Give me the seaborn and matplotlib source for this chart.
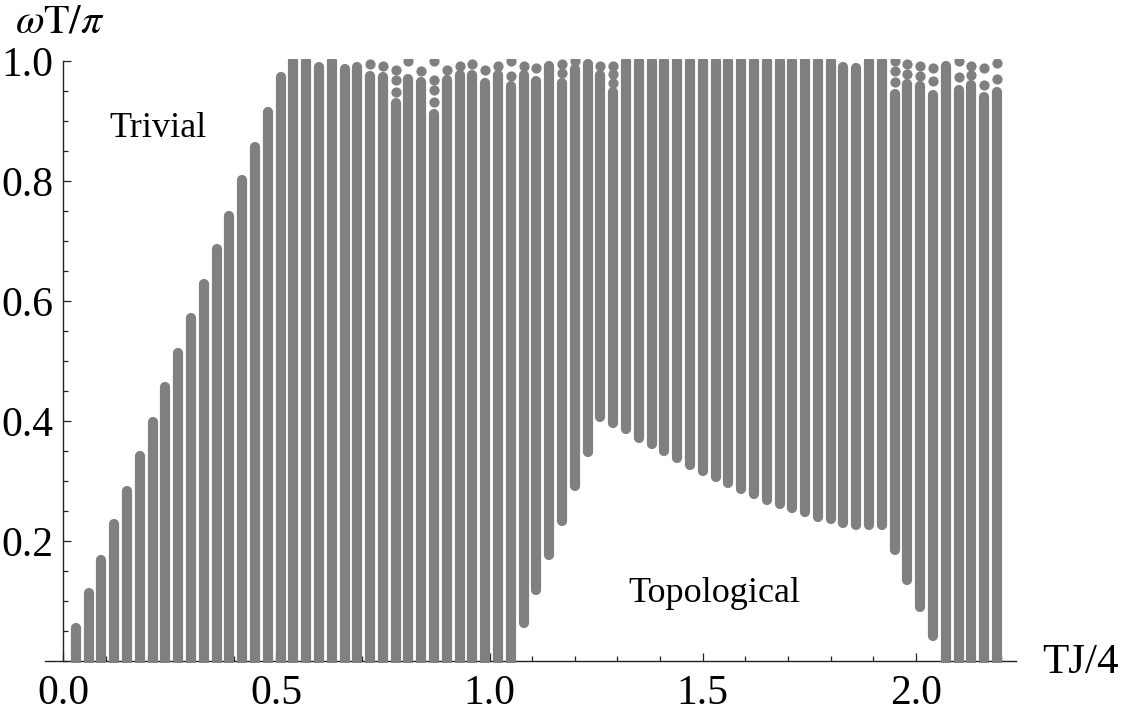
import numpy as np
import pandas as pd
import matplotlib
matplotlib.use("Agg")
import matplotlib.pyplot as plt
from matplotlib.ticker import FixedLocator, MultipleLocator, FormatStrFormatter
import seaborn as sns

# ---------------- data ----------------
tj = [0.03, 0.06, 0.09, 0.12, 0.15, 0.18, 0.21, 0.24, 0.27, 0.30,
      0.33, 0.36, 0.39, 0.42, 0.45, 0.48, 0.51, 0.54, 0.57, 0.60,
      0.63, 0.66, 0.69, 0.72, 0.75, 0.78, 0.81, 0.84, 0.87, 0.90,
      0.93, 0.96, 0.99, 1.02, 1.05, 1.08, 1.11, 1.14, 1.17, 1.20,
      1.23, 1.26, 1.29, 1.32, 1.35, 1.38, 1.41, 1.44, 1.47, 1.50,
      1.53, 1.56, 1.59, 1.62, 1.65, 1.68, 1.71, 1.74, 1.77, 1.80,
      1.83, 1.86, 1.89, 1.92, 1.95, 1.98, 2.01, 2.04, 2.07, 2.10,
      2.13, 2.16, 2.19]

omega_low = [0.0] * 35 + [
    0.063, 0.118, 0.176, 0.233, 0.291, 0.348, 0.406,
    0.396, 0.386, 0.371, 0.361, 0.350, 0.338, 0.326,
    0.316, 0.306, 0.296, 0.286, 0.278, 0.268, 0.261, 0.255, 0.248, 0.240, 0.236,
    0.230, 0.226, 0.226, 0.226,
    0.185, 0.135, 0.090, 0.041,
    0.0, 0.0, 0.0, 0.0, 0.0]

omega_high = [
    0.055, 0.114, 0.169, 0.229, 0.284, 0.342, 0.399, 0.457, 0.514, 0.572,
    0.629, 0.687, 0.742, 0.802, 0.857, 0.915, 0.974,
    1.0, 1.0, 0.99, 1.0, 0.987, 0.99, 0.975, 0.974, 0.93,
    0.970, 0.965, 0.912, 0.968, 0.976, 0.977, 0.963, 0.977, 0.958, 0.976,
    0.966, 0.992, 0.963, 0.987, 0.995, 0.977, 0.949,
    1.0, 1.0, 1.0, 1.0, 1.0, 1.0, 1.0, 1.0, 1.0, 1.0, 1.0, 1.0, 1.0, 1.0, 1.0, 1.0, 1.0,
    0.99, 0.988, 1.0, 1.0, 0.945, 0.962, 0.958, 0.944, 0.992, 0.952,
    0.960, 0.940, 0.948]

# isolated points near the top edge
dot_tj = [0.72, 0.75, 0.78, 0.78, 0.78, 0.81, 0.84, 0.87, 0.87, 0.87, 0.87,
          0.90, 0.93, 0.96, 0.99, 1.02, 1.05, 1.05, 1.08, 1.11, 1.17, 1.17,
          1.20, 1.26, 1.29, 1.29, 1.29, 1.95, 1.95, 1.95, 1.98, 1.98,
          2.01, 2.01, 2.04, 2.04, 2.10, 2.10, 2.13, 2.13, 2.16, 2.16, 2.19, 2.19]
dot_omega = [0.995, 0.992, 0.985, 0.968, 0.949, 1.0, 0.984, 1.0, 0.968, 0.952, 0.932,
             0.985, 0.992, 0.995, 0.985, 0.992, 1.0, 0.975, 0.992, 0.989, 0.995, 0.980,
             1.0, 0.992, 0.992, 0.978, 0.964, 1.0, 0.984, 0.965, 0.995, 0.979,
             0.992, 0.975, 0.988, 0.967, 1.0, 0.974, 0.992, 0.976, 0.989, 0.960, 0.996, 0.9705]

x_ticks = [0.0, 0.5, 1.0, 1.5, 2.0]
y_ticks = [0.2, 0.4, 0.6, 0.8, 1.0]

# ---------------- style ----------------
sns.set_theme(style="white")
plt.rcParams["font.family"] = ["Liberation Serif", "DejaVu Serif"]
plt.rcParams["mathtext.fontset"] = "stix"

GRAY = "#808080"
DPI = 100
fig = plt.figure(figsize=(11.25, 7.2), dpi=DPI)
ax = fig.add_axes([0.0401, 0.0786, 0.8632, 0.84])

rows = []
for i, (x, lo, hi) in enumerate(zip(tj, omega_low, omega_high)):
    rows.append((i, x, lo))
    rows.append((i, x, hi))
df = pd.DataFrame(rows, columns=["col", "tj", "omega"])

LW = 10.2 * 72 / DPI  # column width in points
sns.lineplot(data=df, x="tj", y="omega", units="col", estimator=None, sort=False,
             color=GRAY, linewidth=LW, solid_capstyle="round", ax=ax,
             legend=False, zorder=3)
sns.scatterplot(x=dot_tj, y=dot_omega, s=LW ** 2, color=GRAY, linewidth=0,
                ax=ax, legend=False, zorder=3)

ax.set_xlim(-0.042, 2.235)
ax.set_ylim(-0.004, 1.004)

for s in ["top", "right"]:
    ax.spines[s].set_visible(False)
ax.spines["left"].set_position(("data", 0))
ax.spines["bottom"].set_position(("data", 0))
ax.spines["left"].set_bounds(0, 1.0)
for s in ["left", "bottom"]:
    ax.spines[s].set_color("#222222")
    ax.spines[s].set_linewidth(1.0)
    ax.spines[s].set_zorder(2)

ax.xaxis.set_major_locator(FixedLocator(x_ticks))
ax.yaxis.set_major_locator(FixedLocator(y_ticks))
ax.xaxis.set_minor_locator(MultipleLocator(0.1))
ax.yaxis.set_minor_locator(MultipleLocator(0.05))
ax.xaxis.set_major_formatter(FormatStrFormatter("%.1f"))
ax.yaxis.set_major_formatter(FormatStrFormatter("%.1f"))

ax.tick_params(axis="both", which="both", bottom=True, left=True, top=False, right=False)
ax.tick_params(axis="both", which="major", direction="in", length=6, width=0.9,
               color="#222222", labelsize=30, labelcolor="black")
ax.tick_params(axis="both", which="minor", direction="in", length=3.5, width=0.9,
               color="#222222")
ax.tick_params(axis="x", which="major", pad=10)
ax.tick_params(axis="y", which="major", pad=7)
ax.set_xlabel("")
ax.set_ylabel("")

ax.text(2.2954, -0.02, "TJ/4", fontsize=31, ha="left", va="baseline",
        clip_on=False, color="black")
ax.text(-0.1125, 1.047, r"$\omega\mathrm{T}/\pi$", fontsize=30, ha="left",
        va="baseline", clip_on=False, color="black")
ax.text(0.2216, 0.8733, "Trivial", fontsize=26, ha="center", va="baseline",
        color="black")
ax.text(1.5276, 0.0988, "Topological", fontsize=26, ha="center", va="baseline",
        color="black")

fig.savefig("out.png", dpi=DPI)
